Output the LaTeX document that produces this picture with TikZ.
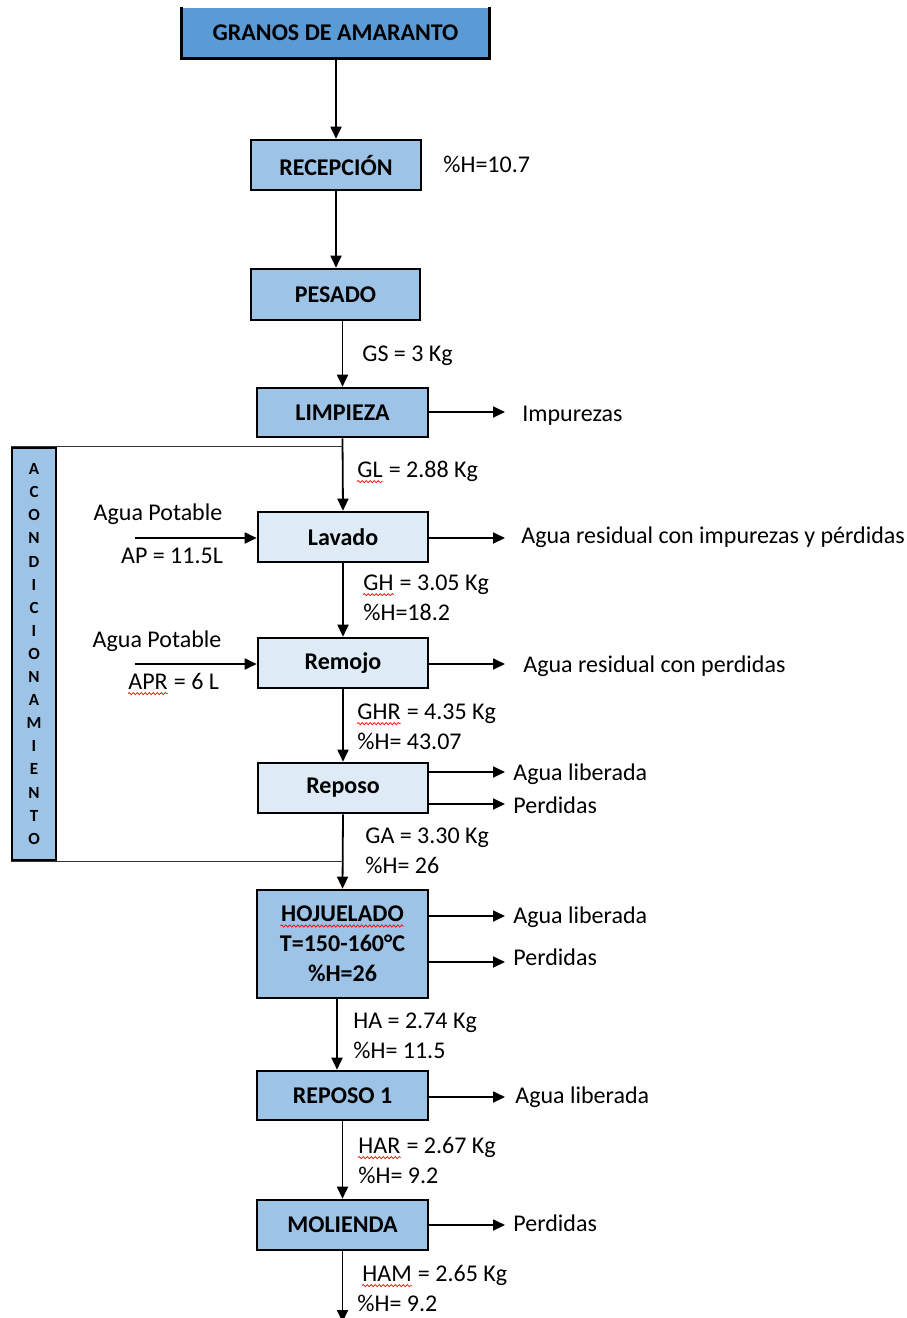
\documentclass[tikz,border=0pt]{standalone}
\usepackage{fontspec}
\setmainfont{Carlito}
\usetikzlibrary{arrows.meta,decorations.pathmorphing}
\definecolor{darkbox}{HTML}{5B9BD5}
\definecolor{lightbox}{HTML}{9DC3E6}
\definecolor{palebox}{HTML}{DEEBF7}
\begin{document}
\begin{tikzpicture}[x=0.5pt,y=-0.5pt,
  font=\fontsize{12}{14}\selectfont,
  procbox/.style={draw, line width=1.3pt, font=\fontsize{12}{15}\selectfont\bfseries, inner sep=0pt, align=center},
  lbl/.style={anchor=west, inner sep=0pt, text height=7.6pt, text depth=0pt},
  clbl/.style={inner sep=0pt, text height=7.6pt, text depth=0pt},
  rest/.style={anchor=base west, inner sep=0pt},
  wave/.style={red, line width=0.35pt, decorate, decoration={snake, amplitude=0.55pt, segment length=2pt}},
  arr/.style={line width=0.9pt, -{Triangle[length=6pt,width=5.5pt]}}]
\clip (0,0) rectangle (906,1318);
\fill[white] (0,0) rectangle (906,1318);

% boxes
\node[procbox, draw=none, fill=darkbox, minimum width=152.5pt, minimum height=24.5pt] (granos) at (335.5,32.5) {GRANOS DE AMARANTO};
\draw[line width=1.3pt] (granos.north west) -- (granos.south west) -- (granos.south east) -- (granos.north east);
\node[procbox, fill=lightbox, minimum width=85pt, minimum height=25pt] (recep) at (336,165) {RECEPCIÓN};
\node[procbox, fill=lightbox, minimum width=84.5pt, minimum height=25.5pt] (pesado) at (335.5,294.5) {PESADO};
\node[procbox, fill=lightbox, minimum width=85.5pt, minimum height=24.5pt] (limp) at (342.5,412.5) {LIMPIEZA};
\node[procbox, fill=palebox, minimum width=85pt, minimum height=25pt] (lavado) at (343,537) {Lavado};
\node[procbox, fill=palebox, minimum width=85pt, minimum height=25pt] (remojo) at (343,663) {Remojo};
\node[procbox, fill=palebox, minimum width=85pt, minimum height=25pt] (reposo) at (343,788) {Reposo};
\node[procbox, fill=lightbox, minimum width=85.5pt, minimum height=54pt] (hoj) at (342.5,944) {HOJUELADO\\T=150-160°C\\\%H=26};
\draw[wave] ([xshift=-31pt,yshift=9pt]hoj.center) -- ([xshift=30.5pt,yshift=9pt]hoj.center);
\node[procbox, fill=lightbox, minimum width=85.5pt, minimum height=24.5pt] (rep1) at (342.5,1095.5) {REPOSO 1};
\node[procbox, fill=lightbox, minimum width=85.5pt, minimum height=25pt] (mol) at (342.5,1225) {MOLIENDA};

% acondicionamiento bar
\node[draw, line width=1.3pt, fill=lightbox, minimum width=22pt, minimum height=206pt, inner sep=0pt, align=center,
  font=\fontsize{8.5}{11.55}\selectfont\bfseries] (acond) at (34,654)
  {A\\C\\O\\N\\D\\I\\C\\I\\O\\N\\A\\M\\I\\E\\N\\T\\O};
\draw[line width=0.7pt, black!80] (acond.north west) -- (limp.south |- acond.north);
\draw[line width=0.7pt, black!80] (acond.south west) -- (reposo.south |- acond.south);

% main flow
\draw[arr] (recep.north |- granos.south) -- (recep.north);
\draw[arr] (recep.south) -- (recep.south |- pesado.north);
\draw[arr] (limp.north |- pesado.south) -- (limp.north);
\draw[arr] (limp.south) -- (lavado.north);
\draw[arr] (lavado.south) -- (remojo.north);
\draw[arr] (remojo.south) -- (reposo.north);
\draw[arr] (reposo.south) -- (hoj.north);
\draw[arr] ([xshift=-2.75pt]hoj.south) -- ([xshift=-2.75pt]rep1.north);
\draw[arr] (rep1.south) -- (mol.north);
\coordinate (fin) at (342.5,1322);
\draw[arr] (mol.south) -- (fin);

% side outputs
\coordinate (o1) at (505,412);
\draw[arr] (limp.east |- o1) -- (o1);
\coordinate (o2) at (505,538);
\draw[arr] (lavado.east |- o2) -- (o2);
\coordinate (o3) at (505,664);
\draw[arr] (remojo.east |- o3) -- (o3);
\coordinate (o4) at (505,772);
\draw[arr] (reposo.east |- o4) -- (o4);
\coordinate (o5) at (505,804);
\draw[arr] (reposo.east |- o5) -- (o5);
\coordinate (o6) at (505,916);
\draw[arr] (hoj.east |- o6) -- (o6);
\coordinate (o7) at (505,962);
\draw[arr] (hoj.east |- o7) -- (o7);
\coordinate (o8) at (505,1097);
\draw[arr] (rep1.east |- o8) -- (o8);
\coordinate (o9) at (505,1225);
\draw[arr] (mol.east |- o9) -- (o9);

% inputs
\coordinate (i1) at (135,538);
\draw[arr] (i1) -- (lavado.west |- i1);
\coordinate (i2) at (135,664);
\draw[arr] (i2) -- (remojo.west |- i2);

% labels
\node[lbl] (t1) at (443,165) {\%H=10.7};
\node[lbl] (t2) at (362,354) {GS = 3 Kg};
\node[lbl] (t3) at (522,414) {Impurezas};
\node[lbl] (t4) at (357,470) {GL};
\node[rest] (t4b) at (t4.base east) {~= 2.88 Kg};
\draw[wave] ([yshift=-2pt]t4.base west) -- ([yshift=-2pt]t4.base east);
\node[clbl] (t5) at (158,513) {Agua Potable};
\node[clbl] (t6) at (172,556) {AP = 11.5L};
\node[lbl] (t7) at (521,536) {Agua residual con impurezas y pérdidas};
\node[lbl] (t8) at (363,583) {GH};
\node[rest] (t8b) at (t8.base east) {~= 3.05 Kg};
\draw[wave] ([yshift=-2pt]t8.base west) -- ([yshift=-2pt]t8.base east);
\node[lbl] (t9) at (363,613) {\%H=18.2};
\node[clbl] (t10) at (157,640) {Agua Potable};
\node[lbl] (t11) at (128,682) {APR};
\node[rest] (t11b) at (t11.base east) {~= 6 L};
\draw[wave] ([yshift=-2pt]t11.base west) -- ([yshift=-2pt]t11.base east);
\node[lbl] (t12) at (523,665) {Agua residual con perdidas};
\node[lbl] (t13) at (357,712) {GHR};
\node[rest] (t13b) at (t13.base east) {~= 4.35 Kg};
\draw[wave] ([yshift=-2pt]t13.base west) -- ([yshift=-2pt]t13.base east);
\node[lbl] (t14) at (357,742) {\%H= 43.07};
\node[lbl] (t15) at (513,773) {Agua liberada};
\node[lbl] (t16) at (513,806) {Perdidas};
\node[lbl] (t17) at (365,836) {GA = 3.30 Kg};
\node[lbl] (t18) at (365,866) {\%H= 26};
\node[lbl] (t19) at (513,916) {Agua liberada};
\node[lbl] (t20) at (513,958) {Perdidas};
\node[lbl] (t21) at (353,1021) {HA = 2.74 Kg};
\node[lbl] (t22) at (353,1051) {\%H= 11.5};
\node[lbl] (t23) at (515,1096) {Agua liberada};
\node[lbl] (t24) at (358,1146) {HAR};
\node[rest] (t24b) at (t24.base east) {~= 2.67 Kg};
\draw[wave] ([yshift=-2pt]t24.base west) -- ([yshift=-2pt]t24.base east);
\node[lbl] (t25) at (358,1176) {\%H= 9.2};
\node[lbl] (t26) at (513,1224) {Perdidas};
\node[lbl] (t27) at (362,1274) {HAM};
\node[rest] (t27b) at (t27.base east) {~= 2.65 Kg};
\draw[wave] ([yshift=-2pt]t27.base west) -- ([yshift=-2pt]t27.base east);
\node[lbl] (t28) at (357,1304) {\%H= 9.2};
\end{tikzpicture}
\end{document}
